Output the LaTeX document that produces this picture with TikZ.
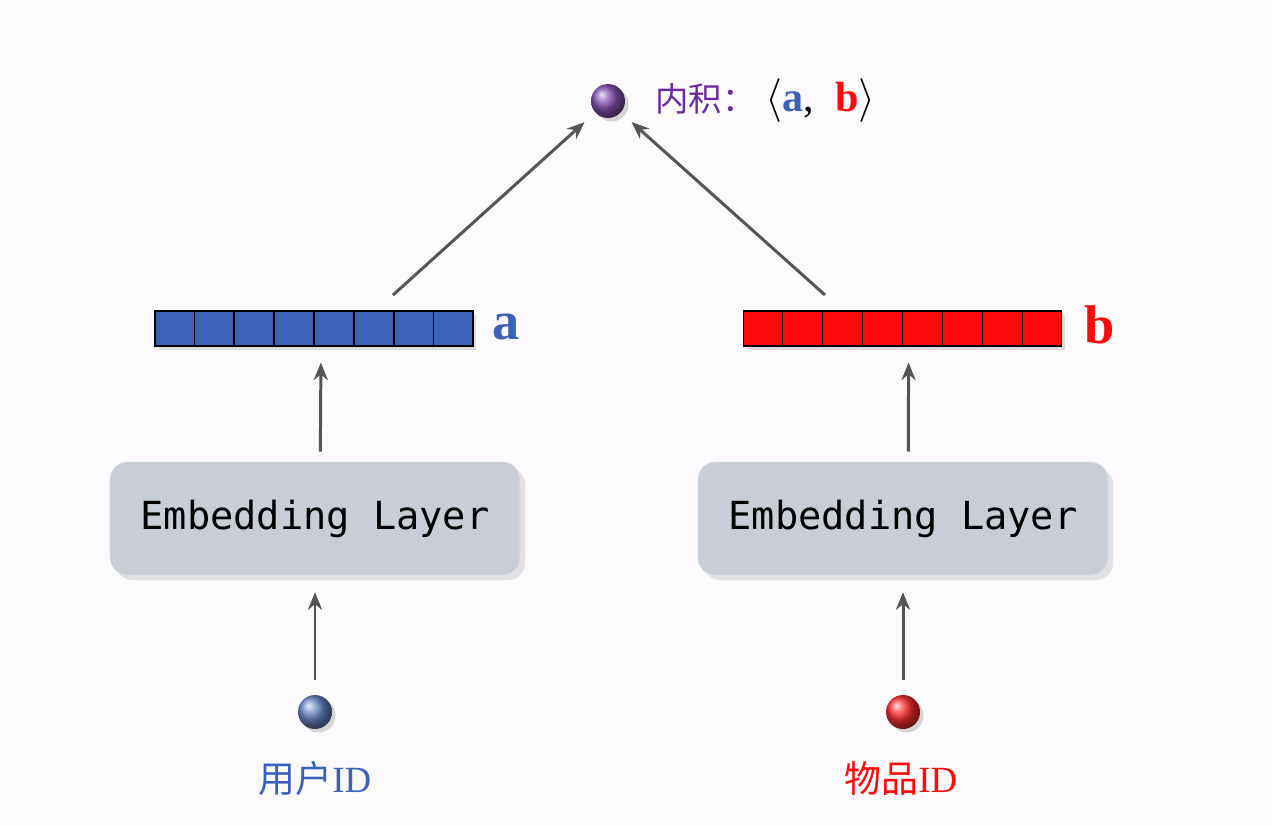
\documentclass[tikz,border=0pt]{standalone}
\usepackage{fontspec}
\setmonofont{DejaVu Sans Mono}
\newfontfamily\cjk{Noto Sans CJK SC}
\newfontfamily\vecfont{Liberation Serif}
\usetikzlibrary{arrows.meta,shadows,calc}
\definecolor{bgwhite}{HTML}{FCFAFC}
\definecolor{vecblue}{HTML}{3A62B8}
\definecolor{vecred}{HTML}{FF0A0A}
\definecolor{dotpurple}{HTML}{6A2BA0}
\definecolor{boxgray}{HTML}{C9CED6}
\definecolor{arrowgray}{HTML}{555555}

\begin{document}
\begin{tikzpicture}[x = .02cm, y = -.02cm,
    ball/.style = {circle, inner sep = 0pt, minimum size = .68cm, shading = ball,
      drop shadow = {opacity = .3, shadow xshift = 2pt, shadow yshift = -2pt}},
    vector/.style = {draw = black, line width = .8pt, inner sep = 0pt,
      minimum width = 6.36cm, minimum height = .7cm,
      drop shadow = {opacity = .25, shadow xshift = 2pt, shadow yshift = -2pt}},
    embbox/.style = {rounded corners = 10pt, fill = boxgray, draw = boxgray!70!white,
      minimum width = 8.2cm, minimum height = 2.26cm,
      font = \ttfamily\fontsize{22}{24}\selectfont,
      drop shadow = {opacity = .2, shadow xshift = 3pt, shadow yshift = -3pt}},
    conn/.style = {draw = arrowgray, line width = 1.7pt,
      -{Stealth[length = 10pt, width = 8pt]}}]
  \fill [bgwhite] (0, 0) rectangle (1272, 825);
  \useasboundingbox (0, 0) rectangle (1272, 825);

  % top
  \node (dot) at (608, 101) [ball, ball color = dotpurple!80!white] {};
  \node (prod) at (655, 101) [anchor = west, inner sep = 0pt]
    {\fontsize{19}{22}\selectfont{\color{dotpurple}\cjk 内积：}\ %
     \vecfont\fontsize{24}{26}\selectfont$\langle$\textbf{\color{vecblue}a}, \ \textbf{\color{vecred}b}$\rangle$};

  % vectors
  \node (veca) at (314, 328.5) [vector, fill = vecblue] {};
  \node (vecb) at (902.5, 328.5) [vector, fill = vecred] {};
  \foreach \v in {veca, vecb}
    \foreach \i in {1, ..., 7}
      \draw [line width = .8pt] ($(\v.south west)!\i/8!(\v.south east)$)
        -- ($(\v.north west)!\i/8!(\v.north east)$);
  \node (la) at (506, 327) [text = vecblue, font = \vecfont\bfseries\fontsize{31}{31}\selectfont] {a};
  \node (lb) at (1100, 325) [text = vecred, font = \vecfont\bfseries\fontsize{31}{31}\selectfont] {b};

  % embedding layers
  \node (emba) at (315, 518.5) [embbox] {Embedding Layer};
  \node (embb) at (903, 518.5) [embbox] {Embedding Layer};

  % inputs
  \node (uid) at (315, 712) [ball, ball color = vecblue!75!white] {};
  \node (iid) at (903, 712) [ball, ball color = vecred!85!white] {};
  \node (luid) at (315, 778) [text = vecblue, font = \vecfont\fontsize{21}{24}\selectfont] {{\cjk 用户}ID};
  \node (liid) at (901, 778) [text = vecred, font = \vecfont\fontsize{21}{24}\selectfont] {{\cjk 物品}ID};

  \coordinate (aout) at (393, 295);
  \coordinate (bout) at (825, 295);
  \draw [conn, shorten > = 18pt] (aout) -- (dot.center);
  \draw [conn, shorten > = 18pt] (bout) -- (dot.center);
  \draw [conn, shorten < = 5.7pt, shorten > = 9pt] ([xshift = 3] emba.north) -- ([xshift = 4] veca.south);
  \draw [conn, shorten < = 5.7pt, shorten > = 9pt] ([xshift = 3] embb.north) -- ([xshift = 3.5] vecb.south);
  \draw [conn, shorten < = 8.5pt, shorten > = 9.6pt] (uid) -- (emba);
  \draw [conn, shorten < = 8.5pt, shorten > = 9.6pt] (iid) -- (embb);
\end{tikzpicture}
\end{document}
